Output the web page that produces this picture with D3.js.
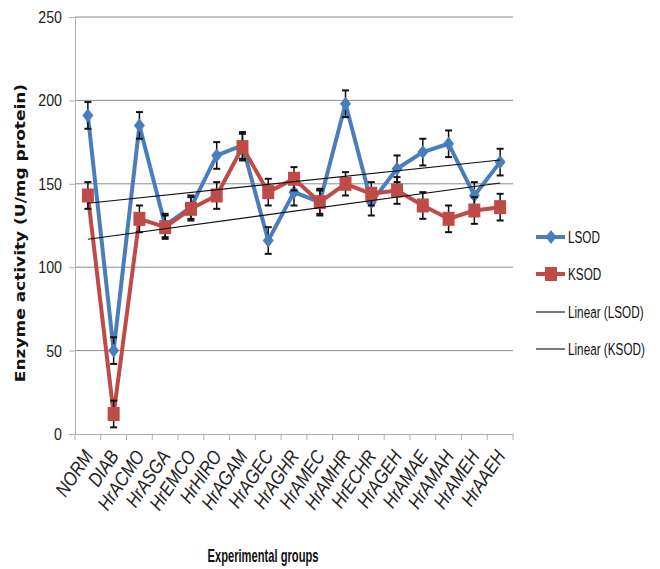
<!DOCTYPE html>
<html><head><meta charset="utf-8">
<script src="https://cdn.jsdelivr.net/npm/d3@7"></script>
<style>body{margin:0;background:#fff}svg{display:block}</style>
</head><body><div id="chart"></div>
<script>
const categories = ["NORM","DIAB","HrACMO","HrASGA","HrEMCO","HrHIRO","HrAGAM","HrAGEC","HrAGHR","HrAMEC","HrAMHR","HrECHR","HrAGEH","HrAMAE","HrAMAH","HrAMEH","HrAAEH"];
const lsod = [191,50,185,125,136,167,173,116,145,139,198,139,159,169,174,143,163];
const lsodErr = [8,8,8,7,7,8,8,8,8,8,8,8,8,8,8,8,8];
const ksod = [143,12,129,124,135,143,172,145,153,139,150,144,146,137,129,134,136];
const ksodErr = [8,8,8,7,7,8,8,8,7,7,7,7,8,8,8,8,8];
const yTicks = [0,50,100,150,200,250];
const legendLabels = ["LSOD","KSOD","Linear (LSOD)","Linear (KSOD)"];

const W=660,H=569;
const m={l:75,t:17,r:513,b:434};
const FONT="'Liberation Sans',Arial,sans-serif";
const blue="#4A7EBB", red="#BE4B48";
const svg=d3.select("#chart").append("svg").attr("width",W).attr("height",H);
const x=d3.scaleBand().domain(categories).range([m.l,m.r]).padding(0);
const y=d3.scaleLinear().domain([0,250]).range([m.b,m.t]);
const cx=d=>x(d)+x.bandwidth()/2;

// gridlines
svg.append("g").selectAll("line").data(yTicks.filter(v=>v>0)).join("line")
  .attr("x1",m.l).attr("x2",m.r).attr("y1",d=>y(d)).attr("y2",d=>y(d))
  .attr("stroke","#8c8c8c").attr("stroke-width",1);

// y axis
const ya=svg.append("g").attr("transform",`translate(${m.l},0)`)
  .call(d3.axisLeft(y).tickValues(yTicks).tickSize(6).tickFormat(""));
ya.select(".domain").attr("stroke","#b0b0b0");
ya.selectAll(".tick line").attr("stroke","#b0b0b0");
svg.append("g").selectAll("text").data(yTicks).join("text")
  .attr("transform",d=>`translate(62,${y(d)+6}) scale(0.86,1)`)
  .attr("text-anchor","end").attr("font-family",FONT).attr("font-size",16.5)
  .attr("fill","#222").text(d=>d);

// x axis
const xa=svg.append("g").attr("transform",`translate(0,${m.b})`)
  .call(d3.axisBottom(x).tickSize(0).tickFormat(""));
xa.select(".domain").attr("stroke","#b0b0b0");
svg.append("g").selectAll("line").data(d3.range(categories.length+1)).join("line")
  .attr("x1",i=>m.l+i*x.bandwidth()).attr("x2",i=>m.l+i*x.bandwidth())
  .attr("y1",m.b).attr("y2",m.b+6).attr("stroke","#b0b0b0");
svg.append("g").selectAll("text").data(categories).join("text")
  .attr("transform",d=>`translate(${cx(d)+6},${m.b+22}) rotate(-56) scale(0.85,1)`)
  .attr("text-anchor","end").attr("font-family",FONT).attr("font-style","italic")
  .attr("font-size",19.5).attr("fill","#222").text(d=>d);

// series
const series=[{name:"LSOD",vals:lsod,err:lsodErr,color:blue,shape:"diamond"},
              {name:"KSOD",vals:ksod,err:ksodErr,color:red,shape:"square"}];
function marker(g,shape,color){
  if(shape==="diamond") g.append("path").attr("d","M0,-7L5.5,0L0,7L-5.5,0Z").attr("fill",color);
  else g.append("rect").attr("x",-6).attr("y",-7).attr("width",12).attr("height",14).attr("fill",color);
}
series.forEach(s=>{
  const line=d3.line().x((d,i)=>cx(categories[i])).y(d=>y(d));
  svg.append("path").datum(s.vals).attr("d",line).attr("fill","none")
    .attr("stroke",s.color).attr("stroke-width",4).attr("stroke-linejoin","round");
  const eb=svg.append("g").attr("stroke","#111").attr("stroke-width",1.5);
  s.vals.forEach((v,i)=>{
    const px=cx(categories[i]);
    eb.append("line").attr("x1",px).attr("x2",px).attr("y1",y(v+s.err[i])).attr("y2",y(v-s.err[i]));
    eb.append("line").attr("x1",px-3.5).attr("x2",px+3.5).attr("y1",y(v+s.err[i])).attr("y2",y(v+s.err[i])).attr("stroke-width",2);
    eb.append("line").attr("x1",px-3.5).attr("x2",px+3.5).attr("y1",y(v-s.err[i])).attr("y2",y(v-s.err[i])).attr("stroke-width",2);
  });
  s.vals.forEach((v,i)=>{
    const g=svg.append("g").attr("transform",`translate(${cx(categories[i])},${y(v)})`);
    marker(g,s.shape,s.color);
  });
});

// linear trendlines (least squares on index 1..n)
series.forEach(s=>{
  const n=s.vals.length, xs=d3.range(1,n+1);
  const mx=d3.mean(xs), my=d3.mean(s.vals);
  const b=d3.sum(xs,(xv,i)=>(xv-mx)*(s.vals[i]-my))/d3.sum(xs,xv=>(xv-mx)*(xv-mx));
  const a=my-b*mx;
  svg.append("line").attr("x1",cx(categories[0])).attr("x2",cx(categories[n-1]))
    .attr("y1",y(a+b*1)).attr("y2",y(a+b*n)).attr("stroke","#111").attr("stroke-width",1.1);
});

// axis titles
svg.append("text").attr("transform",`translate(25,233) rotate(-90) scale(1,0.82)`).attr("text-anchor","middle")
  .attr("font-family","'DejaVu Sans',Verdana,sans-serif").attr("font-weight","bold")
  .attr("font-size",17).attr("fill","#111").text("Enzyme activity (U/mg protein)");
svg.append("text").attr("transform",`translate(263,562) scale(0.62,1)`).attr("text-anchor","middle")
  .attr("font-family",FONT).attr("font-weight","bold").attr("font-size",18).attr("fill","#111")
  .text("Experimental groups");

// legend
const ly=[237,274,312,349];
legendLabels.forEach((lab,i)=>{
  const g=svg.append("g").attr("transform",`translate(536,${ly[i]})`);
  if(i<2){
    g.append("line").attr("x1",0).attr("x2",29).attr("stroke",series[i].color).attr("stroke-width",4);
    const mg=g.append("g").attr("transform","translate(15,0)");
    marker(mg,series[i].shape,series[i].color);
  } else {
    g.append("line").attr("x1",0).attr("x2",29).attr("stroke","#111").attr("stroke-width",1.1);
  }
  g.append("text").attr("transform","translate(32,6) scale(0.69,1)").attr("font-family",FONT)
    .attr("font-size",17).attr("fill","#111").text(lab);
});
</script></body></html>
